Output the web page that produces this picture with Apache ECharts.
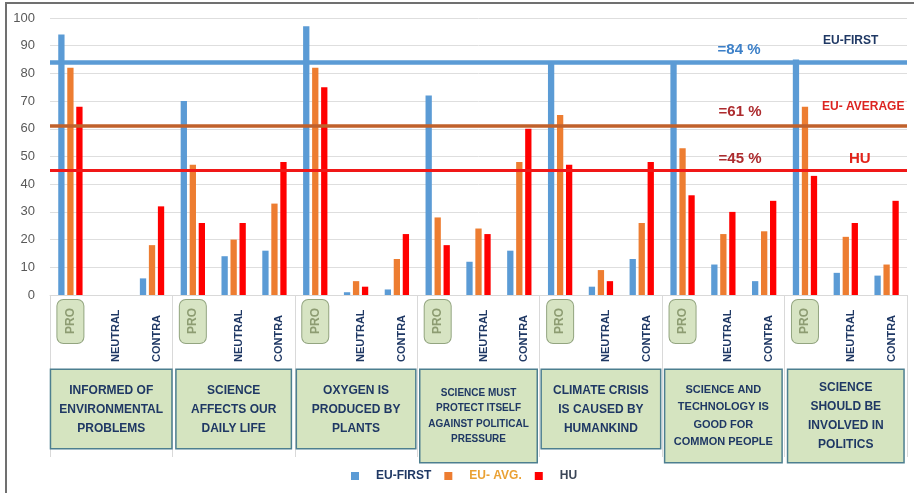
<!DOCTYPE html>
<html>
<head>
<meta charset="utf-8">
<script src="https://cdn.jsdelivr.net/npm/echarts@6/dist/echarts.min.js"></script>
<style>
  html, body { margin: 0; padding: 0; background: #ffffff; }
  #chart { width: 914px; height: 493px; }
</style>
</head>
<body>
<div id="chart"></div>
<script>
// Statements surveyed (one group of three answers each)
const groupTitles = [
  'INFORMED OF\nENVIRONMENTAL\nPROBLEMS',
  'SCIENCE\nAFFECTS OUR\nDAILY LIFE',
  'OXYGEN IS\nPRODUCED BY\nPLANTS',
  'SCIENCE MUST\nPROTECT ITSELF\nAGAINST POLITICAL\nPRESSURE',
  'CLIMATE CRISIS\nIS CAUSED BY\nHUMANKIND',
  'SCIENCE AND\nTECHNOLOGY IS\nGOOD FOR\nCOMMON PEOPLE',
  'SCIENCE\nSHOULD BE\nINVOLVED IN\nPOLITICS'
];
const answerLabels = ['PRO', 'NEUTRAL', 'CONTRA'];
const seriesNames = ['EU-FIRST', 'EU- AVG.', 'HU'];

// Percentages, per statement: PRO, NEUTRAL, CONTRA
const euFirst = [94, 0, 6,   70, 14, 16,   97, 1, 2,   72, 12, 16,   84, 3, 13,   84, 11, 5,   85, 8, 7];
const euAvg   = [82, 0, 18,  47, 20, 33,   82, 5, 13,  28, 24, 48,   65, 9, 26,   53, 22, 23,  68, 21, 11];
const hu      = [68, 0, 32,  26, 26, 48,   75, 3, 22,  18, 22, 60,   47, 5, 48,   36, 30, 34,  43, 26, 34];

// Average "PRO" levels
const levelEuFirst = 84;
const levelEuAvg = 61;
const levelHu = 45;

const yMin = 0, yMax = 100, yStep = 10;

const FONT = '"Liberation Sans", Arial, sans-serif';
const NAVY = '#1f3864';

// one category per answer, keyed by group so names stay unique
const answerCats = [];
groupTitles.forEach((g, gi) => answerLabels.forEach(a => answerCats.push(a + '#' + gi)));

// per-group box styling for the statement labels
const boxStyles = [
  { fontSize: 12, lineHeight: 19, padding: [11, 0, 10, 0] },
  { fontSize: 12, lineHeight: 19, padding: [11, 0, 10, 0] },
  { fontSize: 12, lineHeight: 19, padding: [11, 0, 10, 0] },
  { fontSize: 10, lineHeight: 15.5, padding: [15, 0, 15, 0] },
  { fontSize: 12, lineHeight: 19, padding: [11, 0, 10, 0] },
  { fontSize: 11, lineHeight: 17.5, padding: [11, 0, 11, 0] },
  { fontSize: 12, lineHeight: 19, padding: [8, 0, 8, 0] }
];
const widths = [120, 114, 118, 116, 118, 116, 115];

const groupCats = groupTitles.map((t, i) => ({
  value: t,
  textStyle: Object.assign({ width: widths[i] }, boxStyles[i])
}));

const chart = echarts.init(document.getElementById('chart'), null, { renderer: 'canvas' });

function markLineOf(value, color, width) {
  return {
    silent: true,
    symbol: ['none', 'none'],
    label: { show: false },
    lineStyle: { color: color, width: width, type: 'solid' },
    emphasis: { disabled: true },
    data: [{ yAxis: value }]
  };
}

const option = {
  animation: false,
  backgroundColor: '#ffffff',
  grid: { left: 50, right: 7, top: 18, bottom: 198, containLabel: false },
  legend: {
    left: 346,
    top: 465,
    icon: 'rect',
    itemWidth: 8,
    itemHeight: 8,
    itemGap: 13,
    textStyle: { fontFamily: FONT, fontWeight: 'bold', fontSize: 12, padding: [0, 0, 0, 12] },
    data: [
      { name: seriesNames[0], textStyle: { color: NAVY } },
      { name: seriesNames[1], textStyle: { color: '#eaa133', width: 66 } },
      { name: seriesNames[2], textStyle: { color: '#3b4657' } }
    ]
  },
  xAxis: [
    {
      type: 'category',
      data: answerCats,
      position: 'bottom',
      axisLine: { show: true, lineStyle: { color: '#d9d9d9', width: 1 } },
      axisTick: { show: false },
      axisLabel: {
        interval: 0,
        rotate: 90,
        margin: 67,
        align: 'left',
        verticalAlign: 'middle',
        formatter: (v) => {
          const name = v.split('#')[0];
          if (name === 'PRO') return '{s| }{p|' + name + '}';
          return '{n|' + name + '}';
        },
        rich: {
          s: { width: 19, fontSize: 12 },
          p: {
            fontFamily: FONT, fontWeight: 'bold', fontSize: 12, color: '#8d9c72',
            backgroundColor: '#d7e4c3', borderColor: '#93a580', borderWidth: 1,
            borderRadius: 6, padding: [7, 8, 7, 9], lineHeight: 13
          },
          n: {
            fontFamily: FONT, fontWeight: 'bold', fontSize: 11, color: NAVY,
            padding: [10, 0, 0, 0]
          }
        }
      }
    },
    {
      type: 'category',
      data: groupCats,
      position: 'bottom',
      axisLine: { show: false },
      axisTick: { show: true, interval: 0, length: 162, lineStyle: { color: '#d9d9d9', width: 1 } },
      axisLabel: {
        interval: 0,
        margin: 75,
        align: 'center',
        verticalAlign: 'top',
        fontFamily: FONT,
        fontWeight: 'bold',
        color: NAVY,
        backgroundColor: '#d5e4c0',
        borderColor: '#4d7f8f',
        borderWidth: 1.5
      }
    }
  ],
  yAxis: {
    type: 'value',
    min: yMin,
    max: yMax,
    interval: yStep,
    axisLine: { show: false },
    axisTick: { show: false },
    axisLabel: { margin: 15, color: '#595959', fontSize: 13, fontFamily: FONT },
    splitLine: { show: true, lineStyle: { color: '#dedede', width: 1 } }
  },
  series: [
    {
      name: seriesNames[0], type: 'bar', xAxisIndex: 0, data: euFirst,
      barWidth: 6.3, barGap: '43%',
      itemStyle: { color: '#5b9bd5' },
      markLine: markLineOf(levelEuFirst, '#5b9bd5', 4.5)
    },
    {
      name: seriesNames[1], type: 'bar', xAxisIndex: 0, data: euAvg,
      barWidth: 6.3, barGap: '43%',
      itemStyle: { color: '#ed7d31' },
      markLine: markLineOf(levelEuAvg, '#c0612b', 3.5)
    },
    {
      name: seriesNames[2], type: 'bar', xAxisIndex: 0, data: hu,
      barWidth: 6.3, barGap: '43%',
      itemStyle: { color: '#ff0000' },
      markLine: markLineOf(levelHu, '#f01818', 3)
    }
  ]
};

chart.setOption(option);

// Annotations beside the average lines, placed from the y scale
function yPx(v) { return chart.convertToPixel({ yAxisIndex: 0 }, v); }

const notes = [
  { text: '=' + levelEuFirst + ' %', level: levelEuFirst, dx: 739, dy: -12, align: 'center', color: '#3d80c8', size: 15 },
  { text: 'EU-FIRST', level: levelEuFirst, dx: 823, dy: -22, align: 'left', color: NAVY, size: 12 },
  { text: '=' + levelEuAvg + ' %', level: levelEuAvg, dx: 740, dy: -14, align: 'center', color: '#ad2b2e', size: 15 },
  { text: 'EU- AVERAGE', level: levelEuAvg, dx: 822, dy: -19, align: 'left', color: '#dc2320', size: 12 },
  { text: '=' + levelHu + ' %', level: levelHu, dx: 740, dy: -11, align: 'center', color: '#ad2b2e', size: 15 },
  { text: 'HU', level: levelHu, dx: 849, dy: -11, align: 'left', color: '#e2231a', size: 15 }
];

const graphics = notes.map(n => ({
  type: 'text',
  x: n.dx,
  y: yPx(n.level) + n.dy,
  silent: true,
  style: {
    text: n.text,
    fill: n.color,
    font: 'bold ' + n.size + 'px ' + FONT,
    textAlign: n.align,
    textVerticalAlign: 'middle'
  }
}));

// outer frame
graphics.push({
  type: 'line', silent: true,
  shape: { x1: 5, y1: 3, x2: 914, y2: 3 },
  style: { stroke: '#707070', lineWidth: 2 }
});
graphics.push({
  type: 'line', silent: true,
  shape: { x1: 6, y1: 2, x2: 6, y2: 493 },
  style: { stroke: '#707070', lineWidth: 2 }
});

chart.setOption({ graphic: graphics });
</script>
</body>
</html>
